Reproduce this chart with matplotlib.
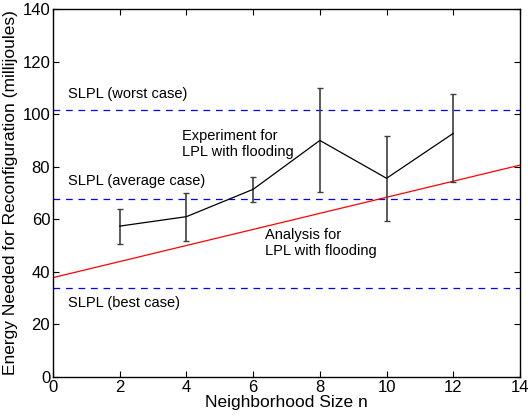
import numpy as np
import matplotlib
matplotlib.use("Agg")
import matplotlib.pyplot as plt

plt.rcParams['font.family'] = ['Liberation Sans', 'DejaVu Sans']

# Experiment for LPL with flooding (mean, upper, lower)
n_exp = [2, 4, 6, 8, 10, 12]
exp_mean = [57.4, 61.0, 71.4, 90.0, 75.6, 92.7]
exp_upper = [63.8, 70.1, 76.0, 109.8, 91.7, 107.6]
exp_lower = [50.6, 51.8, 66.6, 70.5, 59.2, 74.3]

# Analysis for LPL with flooding (straight line)
n_ana = [0, 14]
ana_vals = [37.8, 80.6]

# SLPL reference levels
slpl_worst = 101.4
slpl_avg = 67.7
slpl_best = 33.7

x_ticks = [0, 2, 4, 6, 8, 10, 12, 14]
y_ticks = [0, 20, 40, 60, 80, 100, 120, 140]

fig = plt.figure(figsize=(5.28, 4.17), dpi=100)
ax = fig.add_axes([53 / 528, 1 - 377 / 417, 467 / 528, 368 / 417])

dash = (0, (5.4, 4.6))
for lvl in [slpl_worst, slpl_avg, slpl_best]:
    ax.axhline(lvl, color='#0000ff', lw=0.9, linestyle=dash)

ax.plot(n_ana, ana_vals, color='#ff0000', lw=0.9)

mean = np.array(exp_mean)
yerr = [mean - np.array(exp_lower), np.array(exp_upper) - mean]
ax.errorbar(n_exp, exp_mean, yerr=yerr, color='black', lw=0.9,
            ecolor='#404040', elinewidth=1.2, capsize=2.5, capthick=1.0)

fs = 10.5
ax.text(0.45, 107.6, 'SLPL (worst case)', fontsize=fs, va='center')
ax.text(0.45, 74.5, 'SLPL (average case)', fontsize=fs, va='center')
ax.text(0.45, 28.3, 'SLPL (best case)', fontsize=fs, va='center')
ax.text(3.87, 88.6, 'Experiment for\nLPL with flooding', fontsize=fs,
        va='center', linespacing=1.15)
ax.text(6.36, 51.0, 'Analysis for\nLPL with flooding', fontsize=fs,
        va='center', linespacing=1.15)

ax.set_xlim(0, 14)
ax.set_ylim(0, 140)
ax.set_xticks(x_ticks)
ax.set_yticks(y_ticks)
ax.tick_params(direction='in', top=True, right=True, labelsize=12,
               length=4, width=0.8, pad=2)
for s in ax.spines.values():
    s.set_linewidth(1.0)

ax.set_xlabel('Neighborhood Size n', fontsize=12.5, labelpad=0)
ax.set_ylabel('Energy Needed for Reconfiguration (millijoules)', fontsize=12.5,
              labelpad=3)

fig.savefig('out.png', dpi=100)
